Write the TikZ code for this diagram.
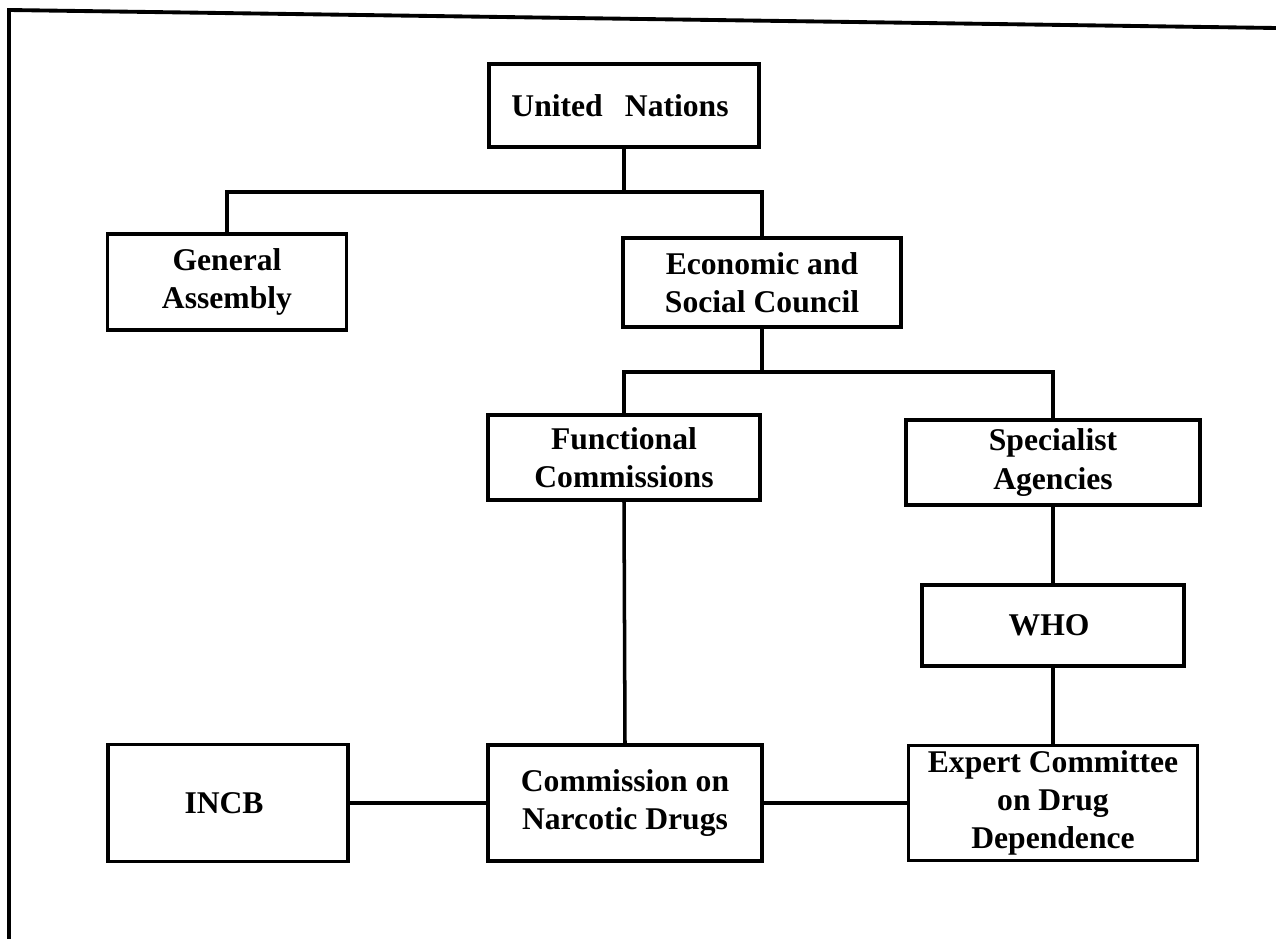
\documentclass[tikz,border=0pt]{standalone}
\usepackage{fontspec}
\setmainfont{Liberation Serif}
\usepackage{tikz}
\usetikzlibrary{
    positioning,
    calc
}

\begin{document}
\begin{tikzpicture}[
    x=0.02cm,
    y=-0.02cm,
    orgbox/.style={
        draw,
        line width=2pt,
        align=center,
        inner sep=2pt,
        font=\fontsize{18}{21.8}\selectfont\bfseries
    },
    link/.style={
        line width=2pt
    }
]
%
    \useasboundingbox (0,0) rectangle (1276,939);
%
    % Page frame
%
    \draw[
        line width=2.2pt
    ]
    (1276,28)
    --
    (9,10)
    --
    (9,939);
%
    % Top levels
%
    \node[
        orgbox,
        minimum width=5.4cm,
        minimum height=1.66cm
    ] (un) at (624,105.5) {
        United\hspace{0.7em}Nations
    };
%
    \node[
        orgbox,
        minimum width=4.78cm,
        minimum height=1.92cm
    ] (ga) at (227,282) {
        General\\
        Assembly
    };
%
    \node[
        orgbox,
        minimum width=5.56cm,
        minimum height=1.78cm
    ] (esc) at (762,282.5) {
        Economic and\\
        Social Council
    };
%
    \node[
        orgbox,
        minimum width=5.44cm,
        minimum height=1.7cm
    ] (fc) at (624,457.5) {
        Functional\\
        Commissions
    };
%
    \node[
        orgbox,
        minimum width=5.88cm,
        minimum height=1.7cm
    ] (sa) at (1053,462.5) {
        Specialist\\
        Agencies
    };
%
    \node[
        orgbox,
        minimum width=5.24cm,
        minimum height=1.62cm
    ] (who) at (1053,625.5) {
        WHO
    };
%
    % Bottom row
%
    \node[
        orgbox,
        minimum width=4.8cm,
        minimum height=2.34cm
    ] (incb) at (228,803) {
        INCB
    };
%
    \node[
        orgbox,
        minimum width=5.48cm,
        minimum height=2.32cm
    ] (cnd) at (625,803) {
        Commission on\\
        Narcotic Drugs
    };
%
    \node[
        orgbox,
        minimum width=5.78cm,
        minimum height=2.3cm
    ] (ecdd) at (1053,803) {
        Expert Committee\\
        on Drug\\
        Dependence
    };
%
    % Connectors
%
    \coordinate (un-split) at (624,192);
    \coordinate (esc-split) at (762,372);
%
    \draw[link] (un.south) -- (un-split);
    \draw[link] (ga.north) |- (un-split) -| (esc.north);
%
    \draw[link] (esc.south) -- (esc-split);
    \draw[link] (fc.north) |- (esc-split) -| (sa.north);
%
    \draw[link] (sa.south) -- (who.north);
    \draw[link] (who.south) -- (ecdd.north);
    \draw[link] (fc.south) -- (cnd.north);
%
    \draw[link] (incb.east) -- (cnd.west);
    \draw[link] (cnd.east) -- (ecdd.west);
%
\end{tikzpicture}
\end{document}
